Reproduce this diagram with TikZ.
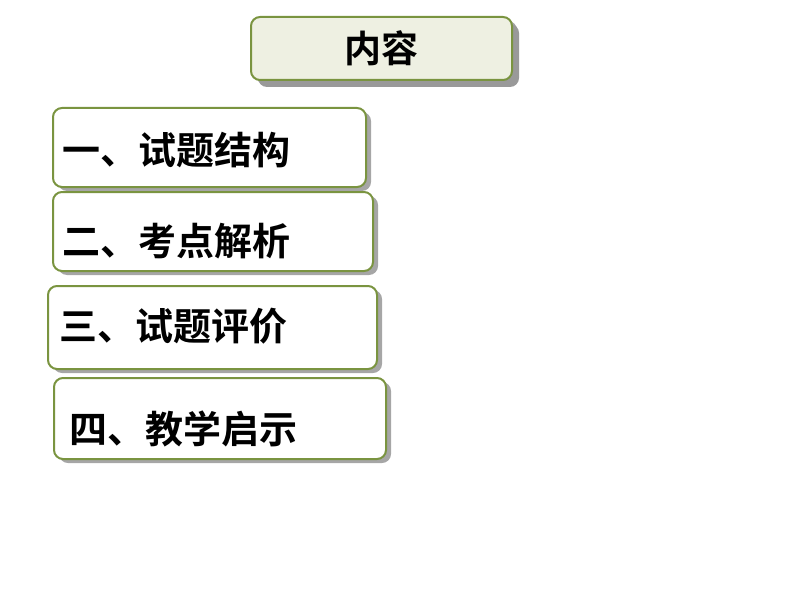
\documentclass[tikz,border=0pt]{standalone}
\usepackage{fontspec}
\newfontfamily\cjk{Noto Sans CJK SC Bold}
\usetikzlibrary{positioning,shadows}
\definecolor{olive}{HTML}{7A9440}
\definecolor{paleg}{HTML}{EEF0E2}
\tikzset{
  card/.style={draw=olive, line width=2pt, rounded corners=9pt, fill=white,
    drop shadow={shadow xshift=5pt, shadow yshift=-4pt, fill=gray!70, opacity=1}},
  label/.style={anchor=west, inner sep=0pt, font=\cjk\fontsize{38}{38}\selectfont}
}
\begin{document}
\begin{tikzpicture}[x=1pt,y=-1pt]
  \useasboundingbox (0,0) rectangle (794,596);

  % Title
  \node[card, fill=paleg, minimum width=261pt, minimum height=63pt,
    drop shadow={shadow xshift=7pt, shadow yshift=-7pt, fill=gray!80, opacity=1}] (title) at (381.5,48.5) {};
  \node[font=\cjk\fontsize{37}{37}\selectfont] (titletext) at (title.center) {内容};

  % Items
  \node[card, minimum width=313pt, minimum height=79pt] (one) at (209.5,147.5) {};
  \node[label] (onetext) at (62,150) {一、试题结构};

  \node[card, minimum width=320pt, minimum height=79pt] (two) at (213,231.5) {};
  \node[label] (twotext) at (62,241) {二、考点解析};

  \node[card, minimum width=329pt, minimum height=83pt] (three) at (212.5,327.5) {};
  \node[label] (threetext) at (59,326) {三、试题评价};

  \node[card, minimum width=332pt, minimum height=81pt] (four) at (220,418.5) {};
  \node[label] (fourtext) at (69,429) {四、教学启示};
\end{tikzpicture}
\end{document}
